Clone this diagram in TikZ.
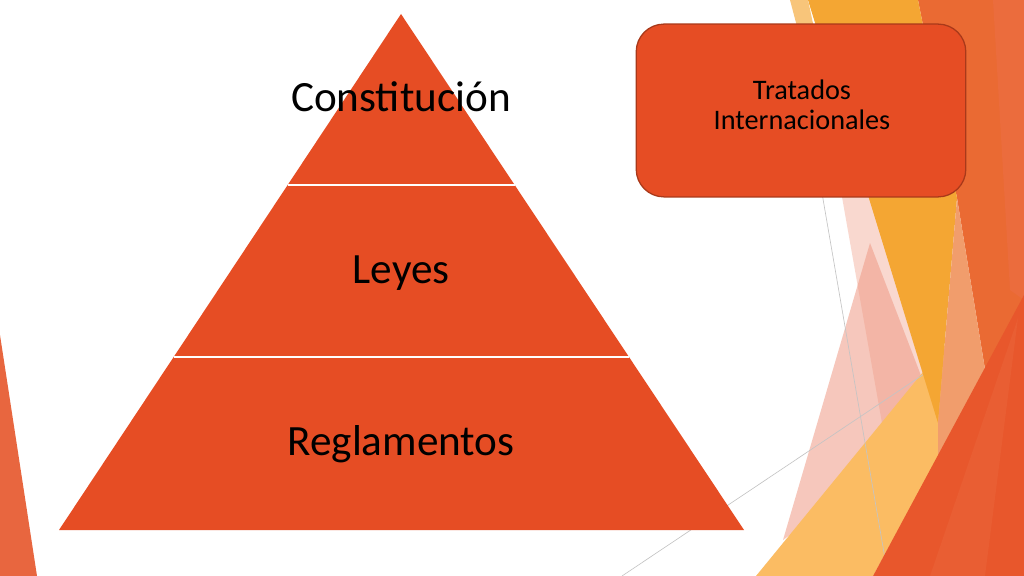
\documentclass[tikz,border=0pt]{standalone}
\usepackage{fontspec}
\setmainfont{Carlito}
\usepackage{tikz}
\usetikzlibrary{calc}
\definecolor{pyrorange}{HTML}{E64D24}
\definecolor{boxedge}{HTML}{A9391A}
\definecolor{facetred}{HTML}{EA6A33}
\definecolor{facetright}{HTML}{EB6C3D}
\definecolor{facetamber}{HTML}{F4A633}
\definecolor{facetsliver}{HTML}{F8C57A}
\definecolor{facetpale}{HTML}{F9D8CF}
\definecolor{facetpink}{HTML}{EF9A85}
\definecolor{facetsun}{HTML}{FBBC63}
\definecolor{facetsalmon}{HTML}{F19D6C}
\definecolor{facetdeep}{HTML}{E8572C}
\definecolor{facetglow}{HTML}{E95E33}
\definecolor{facetleft}{HTML}{E8663F}
\definecolor{hairline}{HTML}{C4C4C4}

\begin{document}
\begin{tikzpicture}[x=0.9375pt, y=-0.9375pt,
        tierlabel/.style={anchor=base, font=\fontsize{40.5}{48}\selectfont},
        gap/.style={white, line width=1.9pt},
        thinline/.style={hairline, line width=0.6pt}]
        \fill[white] (0,0) rectangle (1024,576);
        \useasboundingbox (0,0) rectangle (1024,576);

        \fill[facetleft] (0,335) -- (37,576) -- (0,576) -- cycle;
        \fill[facetred] (918,0) -- (1024,0) -- (1024,576) -- (1005,576) -- (990,400) -- (957,198) -- cycle;
        \fill[facetright] (993,0) -- (1024,0) -- (1024,300) -- (1010,290) -- cycle;
        \fill[facetpale] (842,197) -- (880,197) -- (940,425) -- (885,440) -- cycle;
        \fill[facetpink, opacity=0.55] (870,243) -- (940,425) -- (783,540) -- cycle;
        \fill[facetsun] (756,576) -- (873,576) -- (975,390) -- (955,333) -- cycle;
        \draw[thinline] (818,170) -- (888,576);
        \draw[thinline] (622,576) -- (930,370);
        \fill[facetamber] (808,0) -- (918,0) -- (957,198) -- (938,423) -- cycle;
        \fill[facetsliver] (790,0) -- (808,0) -- (850,197) -- (842,197) -- cycle;
        \fill[facetsalmon] (957,198) -- (990,400) -- (938,458) -- (938,423) -- cycle;
        \fill[facetdeep] (1024,295) -- (1024,576) -- (873,576) -- cycle;
        \fill[facetglow] (930,576) -- (985,576) -- (1018,318) -- cycle;

        \coordinate (apex) at (401,14);
        \coordinate (baseR) at (744,530);
        \coordinate (baseL) at (59,530);
        \fill[pyrorange] (apex) -- (baseR) -- (baseL) -- cycle;
        \draw[gap] ($(apex)!0.3314!(baseL)$) -- ($(apex)!0.3314!(baseR)$);
        \draw[gap] ($(apex)!0.6647!(baseL)$) -- ($(apex)!0.6647!(baseR)$);

        \node[tierlabel] (constitucion) at (401,112) {Constitución};
        \node[tierlabel] (leyes) at (401,283) {Leyes};
        \node[tierlabel] (reglamentos) at (401,455) {Reglamentos};

        \node[draw=boxedge, fill=pyrorange, line width=1.2pt, rounded corners=26pt,
            minimum width=309pt, minimum height=162pt, inner sep=0pt] (tratbox) at (801,110.5) {};
        \node[font=\fontsize{26.5}{28.6}\selectfont, align=center, inner sep=0pt] (tratlabel) at (802,105) {Tratados\\Internacionales};
    \end{tikzpicture}
\end{document}
